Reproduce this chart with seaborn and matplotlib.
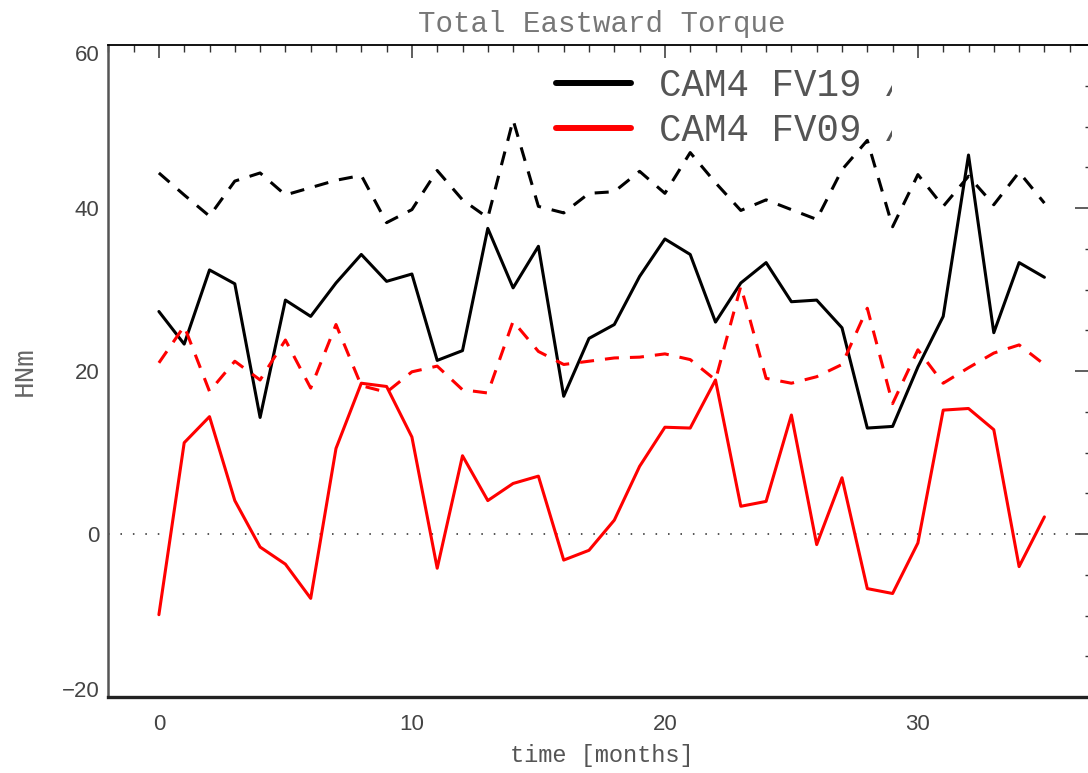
import matplotlib
matplotlib.use("Agg")
import matplotlib.pyplot as plt
from matplotlib.lines import Line2D
from matplotlib.ticker import MultipleLocator
from matplotlib.font_manager import FontProperties
from matplotlib.transforms import Bbox, TransformedBbox
import pandas as pd
import seaborn as sns

# ---- data -------------------------------------------------------------
months = list(range(36))

fv19_solid = [27.3, 23.3, 32.4, 30.7, 14.3, 28.7, 26.7, 30.8, 34.3, 31.0,
              31.9, 21.3, 22.5, 37.5, 30.2, 35.3, 16.9, 24.0, 25.7, 31.6,
              36.2, 34.3, 26.0, 30.8, 33.3, 28.5, 28.7, 25.3, 13.0, 13.2,
              20.5, 26.7, 46.5, 24.7, 33.3, 31.5]
fv19_dashed = [44.3, 41.6, 39.0, 43.3, 44.3, 41.6, 42.5, 43.4, 44.0, 38.2,
               39.8, 44.6, 41.0, 38.8, 50.8, 40.2, 39.4, 41.8, 42.0, 44.5,
               41.8, 46.8, 43.1, 39.7, 41.0, 39.8, 38.6, 44.7, 48.3, 37.7,
               44.1, 40.2, 43.9, 40.4, 44.4, 40.6]
fv09_solid = [-9.9, 11.2, 14.4, 4.1, -1.6, -3.7, -7.9, 10.5, 18.5, 18.1,
              11.9, -4.2, 9.6, 4.1, 6.2, 7.1, -3.2, -2.0, 1.7, 8.3,
              13.1, 13.0, 18.9, 3.4, 4.0, 14.6, -1.3, 6.9, -6.7, -7.3,
              -1.1, 15.2, 15.4, 12.8, -4.0, 2.1]
fv09_dashed = [21.0, 25.5, 17.5, 21.2, 18.9, 23.8, 17.9, 25.7, 18.2, 17.4,
               19.9, 20.6, 17.7, 17.3, 26.1, 22.4, 20.8, 21.2, 21.6, 21.7,
               22.1, 21.4, 18.9, 30.4, 19.1, 18.5, 19.3, 20.8, 27.7, 16.0,
               22.6, 18.5, 20.4, 22.2, 23.2, 20.8]

model_names = ["CAM4 FV19", "CAM4 FV09"]
legend_labels = ["CAM4 FV19 /", "CAM4 FV09 /"]
x_ticks = [0, 10, 20, 30]
y_ticks = [-20, 0, 20, 40, 60]

series = [
    (model_names[0], "solid", fv19_solid),
    (model_names[0], "dashed", fv19_dashed),
    (model_names[1], "solid", fv09_solid),
    (model_names[1], "dashed", fv09_dashed),
]
frames = []
for model, kind, vals in series:
    frames.append(pd.DataFrame({"month": months, "torque": vals,
                                "model": model, "kind": kind}))
df = pd.concat(frames, ignore_index=True)

# ---- style ------------------------------------------------------------
sns.set_style("white")
plt.rcParams["font.family"] = ["Liberation Sans", "DejaVu Sans"]

W, H = 1088, 773
fig = plt.figure(figsize=(W / 100, H / 100), dpi=100)
left_px, right_px, top_px, bottom_px = 108.3, 1095, 45, 697
ax = fig.add_axes([left_px / W, 1 - bottom_px / H,
                   (right_px - left_px) / W, (bottom_px - top_px) / H])

ax.axhline(0, color="#555555", lw=1.4, ls=(0, (0.8, 5.6)), zorder=1)

palette = {model_names[0]: "black", model_names[1]: "#ff0000"}
sns.lineplot(data=df, x="month", y="torque", hue="model", style="kind",
             hue_order=model_names, style_order=["solid", "dashed"],
             palette=palette, dashes={"solid": "", "dashed": (4.6, 3.6)},
             linewidth=2.2, estimator=None, sort=False, legend=False,
             ax=ax, zorder=3)

ax.set_xlim(-2, 37)
ax.set_ylim(-20, 60)
ax.set_xticks(x_ticks)
ax.set_yticks(y_ticks)
ax.xaxis.set_minor_locator(MultipleLocator(1))
ax.yaxis.set_minor_locator(MultipleLocator(5))

tick_color = "#333333"
ax.tick_params(axis="x", which="major", direction="in", length=9.4,
               width=1.1, color=tick_color, top=True, pad=12,
               labelsize=16, labelcolor="#444444")
ax.tick_params(axis="x", which="minor", direction="in", length=4.8,
               width=1.0, color=tick_color, top=True)
ax.tick_params(axis="y", which="major", direction="in", length=14.4,
               width=1.1, color=tick_color, right=True, pad=6.5,
               labelsize=16, labelcolor="#444444")
ax.tick_params(axis="y", which="minor", direction="in", length=7.2,
               width=1.0, color=tick_color, right=True)

for side, lw, col in [("top", 1.3, "black"), ("bottom", 2.4, "#222222"),
                      ("left", 1.8, "#555555"), ("right", 1.8, "#555555")]:
    ax.spines[side].set_linewidth(lw)
    ax.spines[side].set_color(col)

for lab in ax.get_yticklabels():
    txt = lab.get_text().replace("\u2212", "-")
    if txt == "60":
        lab.set_va("top")
    elif txt == "-20":
        lab.set_va("baseline")

mono = "Liberation Mono"
ax.set_title("Total Eastward Torque", family=mono, fontsize=21,
             color="#777777", pad=9.5)
ax.set_xlabel("time [months]", family=mono, fontsize=17, color="#555555")
ax.set_ylabel("HNm", family=mono, fontsize=20, color="#666666")
ax.xaxis.set_label_coords(0.5, -0.072)
ax.yaxis.set_label_coords(-0.071, 0.5)

handles = [Line2D([], [], color=palette[m], lw=4.3) for m in model_names]
leg = ax.legend(handles, legend_labels, loc="upper left",
                bbox_to_anchor=(0.454, 0.964), frameon=False,
                prop=FontProperties(family=mono, size=27),
                handlelength=1.98, handletextpad=0.76, labelspacing=0.24,
                borderpad=0, borderaxespad=0)
clip = TransformedBbox(Bbox.from_extents(0, 0, 892 / W, 1), fig.transFigure)
for t in leg.get_texts():
    t.set_color("#555555")
    t.set_clip_box(clip)
    t.set_clip_on(True)

fig.savefig("out.png", dpi=100)
